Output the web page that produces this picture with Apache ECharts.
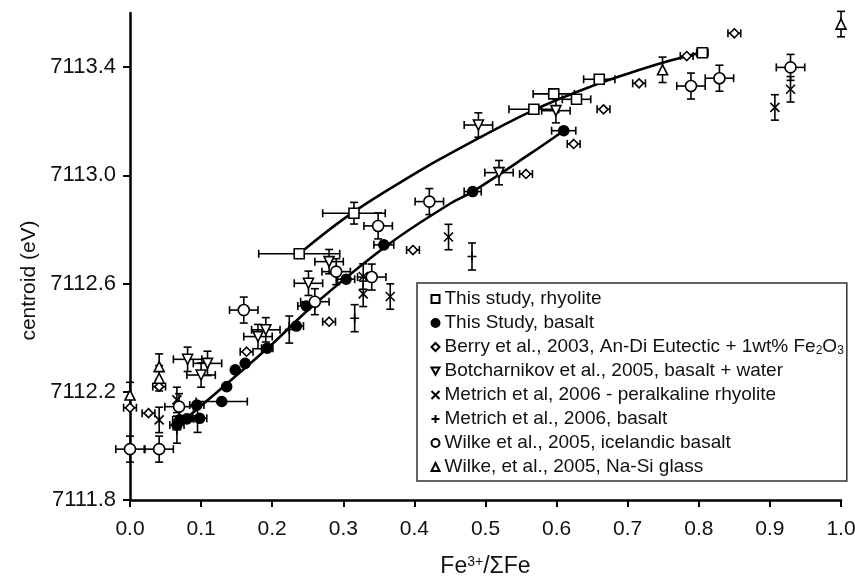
<!DOCTYPE html>
<html>
<head>
<meta charset="utf-8">
<title>centroid vs Fe3+/ΣFe</title>
<script src="https://cdn.jsdelivr.net/npm/echarts@6/dist/echarts.min.js"></script>
<style>
  html, body { margin: 0; padding: 0; background: #fff; }
  #chart { width: 855px; height: 577px; }
</style>
</head>
<body>
<div id="chart"></div>
<script>
// each point: [Fe3+/ΣFe, centroid (eV), x error, y error]
const rhyolite = [
  [0.238, 7112.71, 0.057, 0], [0.315, 7112.86, 0.044, 0.04], [0.568, 7113.244, 0.035, 0],
  [0.596, 7113.301, 0.029, 0], [0.628, 7113.281, 0.02, 0], [0.660, 7113.355, 0.022, 0],
  [0.805, 7113.453, 0.008, 0]
];
const basalt = [
  [0.066, 7112.077, 0.01, 0], [0.070, 7112.096, 0.01, 0], [0.080, 7112.10, 0.01, 0],
  [0.094, 7112.151, 0.01, 0], [0.098, 7112.102, 0.01, 0], [0.129, 7112.164, 0.036, 0],
  [0.136, 7112.219, 0, 0], [0.148, 7112.281, 0, 0], [0.162, 7112.305, 0, 0],
  [0.193, 7112.361, 0.008, 0], [0.234, 7112.443, 0.01, 0], [0.248, 7112.517, 0.012, 0],
  [0.304, 7112.616, 0.012, 0], [0.357, 7112.743, 0.014, 0], [0.482, 7112.94, 0.012, 0],
  [0.610, 7113.165, 0.017, 0]
];
const berry = [
  [0.0, 7112.141, 0.009, 0], [0.026, 7112.121, 0.009, 0], [0.041, 7112.219, 0.009, 0],
  [0.164, 7112.348, 0.009, 0], [0.280, 7112.459, 0.009, 0], [0.398, 7112.724, 0.009, 0],
  [0.557, 7113.005, 0.009, 0], [0.624, 7113.116, 0.009, 0], [0.666, 7113.244, 0.009, 0],
  [0.716, 7113.340, 0.009, 0], [0.783, 7113.441, 0.009, 0], [0.850, 7113.525, 0.009, 0]
];
const botcharnikov = [
  [0.081, 7112.32, 0.02, 0.045], [0.109, 7112.305, 0.02, 0.045], [0.100, 7112.262, 0.02, 0.045],
  [0.180, 7112.404, 0.02, 0.045], [0.191, 7112.429, 0.02, 0.045], [0.251, 7112.601, 0.02, 0.045],
  [0.280, 7112.681, 0.02, 0.045], [0.490, 7113.186, 0.02, 0.045], [0.519, 7113.010, 0.02, 0.045],
  [0.599, 7113.239, 0.02, 0.045]
];
const metrichRhyolite = [
  [0.041, 7112.096, 0, 0.047], [0.066, 7112.17, 0, 0.047], [0.328, 7112.626, 0, 0.047],
  [0.328, 7112.562, 0, 0.047], [0.366, 7112.552, 0, 0.047], [0.448, 7112.772, 0, 0.047],
  [0.907, 7113.251, 0, 0.047], [0.929, 7113.318, 0, 0.047]
];
const metrichBasalt = [
  [0.066, 7112.06, 0, 0.05], [0.095, 7112.10, 0, 0.05], [0.224, 7112.43, 0, 0.05],
  [0.316, 7112.472, 0, 0.05], [0.481, 7112.70, 0, 0.05]
];
const wilkeBasalt = [
  [0.0, 7111.988, 0.02, 0.048], [0.041, 7111.988, 0.02, 0.048], [0.069, 7112.145, 0.02, 0.048],
  [0.160, 7112.502, 0.02, 0.048], [0.260, 7112.533, 0.02, 0.048], [0.290, 7112.644, 0.02, 0.048],
  [0.340, 7112.624, 0.02, 0.048], [0.349, 7112.813, 0.02, 0.048], [0.421, 7112.903, 0.02, 0.048],
  [0.789, 7113.33, 0.02, 0.048], [0.829, 7113.359, 0.02, 0.048], [0.929, 7113.399, 0.02, 0.048]
];
const wilkeGlass = [
  [0.0, 7112.188, 0, 0.047], [0.041, 7112.293, 0, 0.047], [0.041, 7112.25, 0, 0.047],
  [0.749, 7113.39, 0, 0.047], [1.0, 7113.559, 0, 0.047]
];

// fit curves
const rhyoliteFit = [
  [0.238, 7112.71], [0.313, 7112.862], [0.403, 7113.01], [0.450, 7113.08], [0.567, 7113.24],
  [0.660, 7113.34], [0.717, 7113.39], [0.760, 7113.424], [0.805, 7113.455]
];
const basaltFit = [
  [0.065, 7112.07], [0.191, 7112.355], [0.258, 7112.52], [0.361, 7112.74], [0.45, 7112.895],
  [0.482, 7112.94], [0.563, 7113.08], [0.610, 7113.165]
];

const xTicks = [0, 0.1, 0.2, 0.3, 0.4, 0.5, 0.6, 0.7, 0.8, 0.9, 1.0];
const yTicks = [7111.8, 7112.2, 7112.6, 7113.0, 7113.4];

const FONT = '"Liberation Sans", Arial, Helvetica, sans-serif';
const BERRY = 'Berry et al., 2003, An-Di Eutectic + 1wt% Fe2O3';

const groups = [
  { name: 'This study, rhyolite', data: rhyolite, symbol: 'rect', size: 10, fill: '#fff' },
  { name: 'This Study, basalt', data: basalt, symbol: 'circle', size: 10, fill: '#000' },
  { name: BERRY, data: berry, symbol: 'diamond', size: 9, fill: '#fff' },
  { name: 'Botcharnikov et al., 2005, basalt + water', data: botcharnikov, symbol: 'path://M0,0L10,0L5,9Z', size: 10, fill: '#fff' },
  { name: 'Metrich et al, 2006 - peralkaline rhyolite', data: metrichRhyolite, symbol: 'path://M0,0L10,10M10,0L0,10', size: 9, fill: 'none' },
  { name: 'Metrich et al., 2006, basalt', data: metrichBasalt, symbol: 'path://M5,0L5,10M0,5L10,5', size: 9, fill: 'none' },
  { name: 'Wilke et al., 2005, icelandic basalt', data: wilkeBasalt, symbol: 'circle', size: 11, fill: '#fff' },
  { name: 'Wilke, et al., 2005, Na-Si glass', data: wilkeGlass, symbol: 'triangle', size: 10, fill: '#fff' }
];

function renderErr(params, api) {
  const x = api.value(0), y = api.value(1), ex = api.value(2), ey = api.value(3);
  const style = { stroke: '#000', lineWidth: 1.6, fill: null };
  const kids = [];
  const seg = (x1, y1, x2, y2) => kids.push({ type: 'line', shape: { x1, y1, x2, y2 }, style });
  if (ex > 0) {
    const a = api.coord([x - ex, y]), b = api.coord([x + ex, y]);
    seg(a[0], a[1], b[0], b[1]);
    seg(a[0], a[1] - 4, a[0], a[1] + 4);
    seg(b[0], b[1] - 4, b[0], b[1] + 4);
  }
  if (ey > 0) {
    const a = api.coord([x, y - ey]), b = api.coord([x, y + ey]);
    seg(a[0], a[1], b[0], b[1]);
    seg(a[0] - 4, a[1], a[0] + 4, a[1]);
    seg(b[0] - 4, b[1], b[0] + 4, b[1]);
  }
  return { type: 'group', children: kids };
}

let allPoints = [];
groups.forEach(g => { allPoints = allPoints.concat(g.data); });

const series = [
  {
    type: 'custom', name: 'errors', data: allPoints, renderItem: renderErr,
    clip: false, silent: true, z: 1, encode: { x: 0, y: 1 }
  },
  {
    type: 'line', name: 'rhyolite fit', data: rhyoliteFit, smooth: 0.4, symbol: 'none',
    lineStyle: { color: '#000', width: 2.6 }, z: 2, silent: true
  },
  {
    type: 'line', name: 'basalt fit', data: basaltFit, smooth: 0.4, symbol: 'none',
    lineStyle: { color: '#000', width: 2.6 }, z: 2, silent: true
  }
];
groups.forEach(g => {
  series.push({
    type: 'scatter',
    name: g.name,
    data: g.data.map(p => [p[0], p[1]]),
    symbol: g.symbol,
    symbolSize: g.size,
    z: 3,
    itemStyle: { color: g.fill, borderColor: '#000', borderWidth: 1.6, opacity: 1 }
  });
});

const chart = echarts.init(document.getElementById('chart'));
chart.setOption({
  animation: false,
  backgroundColor: '#fff',
  textStyle: { fontFamily: FONT },
  grid: { left: 130, right: 14, top: 13, bottom: 77, outerBoundsMode: 'none', containLabel: false },
  legend: {
    data: groups.map(g => g.name),
    orient: 'vertical',
    left: 417,
    top: 283,
    z: 10,
    backgroundColor: '#fff',
    borderColor: '#333',
    borderWidth: 1.5,
    borderRadius: 0,
    padding: [6, 3, 4, 12],
    itemGap: 4,
    itemWidth: 8,
    itemHeight: 8,
    selectedMode: false,
    formatter: name => name === BERRY ? 'Berry et al., 2003, An-Di Eutectic + 1wt% Fe{sub|2}O{sub|3}' : name,
    textStyle: {
      fontFamily: FONT, fontSize: 19, color: '#111', lineHeight: 20,
      rich: { sub: { fontSize: 12, lineHeight: 20, verticalAlign: 'bottom', fontFamily: FONT, color: '#111' } }
    }
  },
  xAxis: {
    type: 'value',
    min: 0, max: 1, interval: 0.1,
    name: 'Fe{sup|3+}/ΣFe',
    nameLocation: 'middle',
    nameGap: 55,
    nameTextStyle: {
      fontFamily: FONT, fontSize: 23, color: '#111',
      rich: { sup: { fontSize: 14, verticalAlign: 'top', padding: [0, 0, 10, 0], fontFamily: FONT, color: '#111' } }
    },
    splitLine: { show: false },
    axisLine: { lineStyle: { color: '#000', width: 2.5 } },
    axisTick: { inside: false, length: 7, lineStyle: { color: '#000', width: 2 }, customValues: xTicks },
    axisLabel: { margin: 19, fontSize: 21, color: '#111', fontFamily: FONT, customValues: xTicks, formatter: v => v.toFixed(1) }
  },
  yAxis: {
    type: 'value',
    min: 7111.8, max: 7113.6,
    name: 'centroid (eV)',
    nameLocation: 'middle',
    nameGap: 90,
    nameRotate: 90,
    nameTextStyle: { fontFamily: FONT, fontSize: 21, color: '#111', padding: [0, 48, 0, 0] },
    splitLine: { show: false },
    axisLine: { lineStyle: { color: '#000', width: 2.5 } },
    axisTick: { inside: false, length: 7, lineStyle: { color: '#000', width: 2 }, customValues: yTicks },
    axisLabel: { margin: 14, fontSize: 22, color: '#111', fontFamily: FONT, customValues: yTicks, formatter: v => v.toFixed(1) }
  },
  series: series
});
</script>
</body>
</html>
